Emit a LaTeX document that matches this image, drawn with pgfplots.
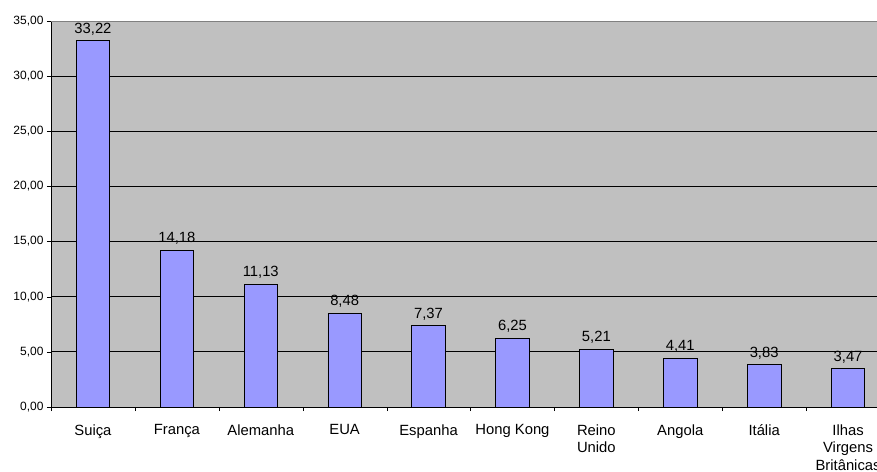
\documentclass[border=0pt]{standalone}
\usepackage{fontspec}
\setmainfont{Liberation Sans}
\usepackage{pgfplots}
\pgfplotsset{compat=1.18}
\definecolor{plotbg}{HTML}{C0C0C0}
\definecolor{barfill}{HTML}{9999FF}
\definecolor{topborder}{HTML}{808080}
\begin{document}
\begin{tikzpicture}
\begin{axis}[
  at={(0,0)}, anchor=south west,
  scale only axis,
  width=839pt, height=386pt,
  xmin=-0.5, xmax=9.5,
  ymin=0, ymax=35,
  axis lines*=left,
  axis line style={-,black},
  axis background/.style={fill=plotbg},
  ybar, bar width=33.5pt,
  xtick={0,...,9},
  xticklabels={Suiça, França, Alemanha, EUA, Espanha, Hong Kong, {Reino\\Unido}, Angola, Itália, {Ilhas\\Virgens\\Britânicas}},
  major x tick style={draw=none},
  minor xtick={-0.5,0.5,...,9.5},
  minor tick length=4pt,
  ytick={0,5,...,35},
  major tick length=4pt,
  tick align=outside,
  tick style={black},
  ymajorgrids,
  grid style={black, line width=0.8pt},
  /pgf/number format/.cd, use comma, fixed, fixed zerofill, precision=2, assume math mode=true,
  /pgfplots/.cd,
  yticklabel style={font=\fontsize{12}{14}\selectfont},
  xticklabel style={font=\fontsize{14.8}{17.5}\selectfont, align=center, yshift=-10pt},
  nodes near coords,
  every node near coord/.append style={font=\fontsize{14.8}{17}\selectfont, yshift=2pt},
]
\addplot[fill=barfill, draw=black, line width=0.8pt] coordinates {
  (0,33.22) (1,14.18) (2,11.13) (3,8.48) (4,7.37)
  (5,6.25) (6,5.21) (7,4.41) (8,3.83) (9,3.47)
};
\draw[topborder, line width=1.8pt] (rel axis cs:0,1) -- (rel axis cs:1,1);
\end{axis}
\pgfresetboundingbox
\path[use as bounding box] (-51pt,-64pt) rectangle (826pt,407pt);
\end{tikzpicture}
\end{document}
